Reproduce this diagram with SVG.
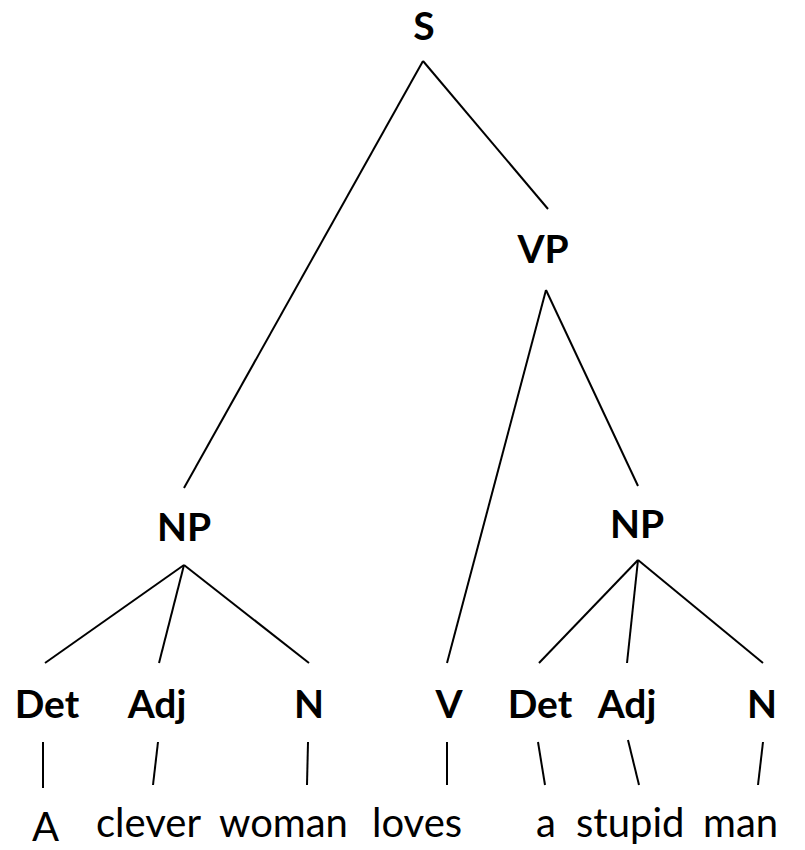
<svg xmlns="http://www.w3.org/2000/svg" width="805" height="850" viewBox="0 0 805 850">
  <style>
    .cat { font-family: Lato, "Liberation Sans", sans-serif; font-weight: bold; font-size: 39px; fill: #000; text-anchor: middle; }
    .word { font-family: Lato, "Liberation Sans", sans-serif; font-size: 40px; fill: #000; }
    .edge { stroke: #000; stroke-width: 2; fill: none; stroke-linecap: butt; }
  </style>
  <rect width="805" height="850" fill="#fff"/>

  <!-- tree branches -->
  <g id="edges" class="edge">
    <line x1="423" y1="61" x2="184" y2="488"/>
    <line x1="423" y1="61" x2="548" y2="209"/>
    <line x1="546" y1="290" x2="447" y2="663"/>
    <line x1="546" y1="290" x2="638" y2="486"/>
    <line x1="184" y1="565" x2="45" y2="663"/>
    <line x1="184" y1="565" x2="159" y2="663"/>
    <line x1="184" y1="565" x2="309" y2="663"/>
    <line x1="638" y1="560" x2="539" y2="663"/>
    <line x1="638" y1="560" x2="627" y2="663"/>
    <line x1="638" y1="560" x2="763" y2="663"/>
    <line x1="43" y1="742" x2="43" y2="788"/>
    <line x1="158" y1="742" x2="153" y2="785"/>
    <line x1="308" y1="742" x2="307" y2="785"/>
    <line x1="447" y1="742" x2="447" y2="785"/>
    <line x1="538" y1="742" x2="545" y2="785"/>
    <line x1="628" y1="740" x2="639" y2="785"/>
    <line x1="763" y1="742" x2="758" y2="785"/>
  </g>

  <!-- phrase and category nodes -->
  <g id="node-S"><text class="cat" x="424" y="40">S</text></g>
  <g id="node-VP"><text class="cat" x="543" y="263">VP</text></g>
  <g id="node-NP1"><text class="cat" x="184" y="541">NP</text></g>
  <g id="node-NP2"><text class="cat" x="637" y="538">NP</text></g>
  <g id="node-Det1"><text class="cat" x="47" y="718">Det</text></g>
  <g id="node-Adj1"><text class="cat" x="157" y="718">Adj</text></g>
  <g id="node-N1"><text class="cat" x="309" y="718">N</text></g>
  <g id="node-V"><text class="cat" x="449" y="718">V</text></g>
  <g id="node-Det2"><text class="cat" x="540" y="718">Det</text></g>
  <g id="node-Adj2"><text class="cat" x="627" y="718">Adj</text></g>
  <g id="node-N2"><text class="cat" x="762" y="718">N</text></g>

  <!-- words of the sentence -->
  <g id="leaf-A"><text class="word" x="32" y="841" font-size="37">A</text></g>
  <g id="leaf-clever"><text class="word" x="96" y="837">clever</text></g>
  <g id="leaf-woman"><text class="word" x="219" y="837">woman</text></g>
  <g id="leaf-loves"><text class="word" x="372" y="837">loves</text></g>
  <g id="leaf-a"><text class="word" x="536" y="837">a</text></g>
  <g id="leaf-stupid"><text class="word" x="576" y="837">stupid</text></g>
  <g id="leaf-man"><text class="word" x="703" y="837">man</text></g>
</svg>
